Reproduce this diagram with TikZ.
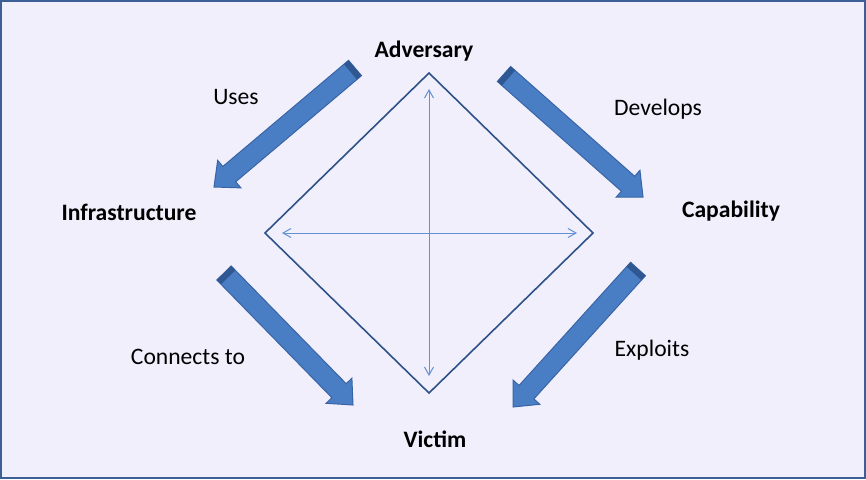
\documentclass[tikz,border=0pt]{standalone}
\usepackage{fontspec}
\setmainfont{Carlito}
\usepackage{xcolor}
\usetikzlibrary{arrows.meta, calc, math}
\definecolor{bgblue}{RGB}{241,239,252}
\definecolor{frameblue}{RGB}{60,95,150}
\definecolor{arrfill}{RGB}{74,126,196}
\definecolor{arredge}{RGB}{56,100,165}
\definecolor{arrtail}{RGB}{47,88,146}
\definecolor{diamblue}{RGB}{46,82,136}
\definecolor{axisblue}{RGB}{100,145,212}

% block arrow from tail #1 to tip #2
\newcommand{\blockarr}[2]{%
\coordinate (H) at ($(#2)!10pt!(#1)$);
\coordinate (T1) at ($(#1)!3pt!(#2)$);
\fill[arrfill, draw=arredge, line width=0.5pt, line join=miter]
  ($(#1)!5pt!90:(#2)$) -- ($(H)!5pt!90:(#2)$) -- ($(H)!9pt!90:(#2)$)
  -- (#2) -- ($(H)!9pt!-90:(#2)$) -- ($(H)!5pt!-90:(#2)$)
  -- ($(#1)!5pt!-90:(#2)$) -- cycle;
\fill[arrtail] ($(#1)!5pt!90:(#2)$) -- ($(T1)!5pt!90:(#2)$)
  -- ($(T1)!5pt!-90:(#2)$) -- ($(#1)!5pt!-90:(#2)$) -- cycle;
}

\begin{document}
\begin{tikzpicture}[x=0.5pt, y=-0.5pt,
  bigword/.style={font=\fontsize{11.8}{14}\selectfont\bfseries, anchor=base, inner sep=0pt},
  smallword/.style={font=\fontsize{11.8}{14}\selectfont, anchor=base, inner sep=0pt}]

\tikzmath{
\cx = 429;
\cy = 233;
\dx = 164; %half width of diamond
\dy = 160; %half height of diamond
}

%frame:
\useasboundingbox (0,0) rectangle (866,479);
\fill[bgblue] (0,0) rectangle (866,479);
\draw[frameblue, line width=1.2pt] (1,1) rectangle (865,478);

%diamond:
\coordinate (DT) at (\cx,\cy-\dy);
\coordinate (DL) at (\cx-\dx,\cy);
\coordinate (DR) at (\cx+\dx,\cy);
\coordinate (DB) at (\cx,\cy+\dy);
\draw[diamblue, line width=0.8pt] (DT) -- (DR) -- (DB) -- (DL) -- cycle;

%axes:
\coordinate (AT) at (\cx,89);
\coordinate (AB) at (\cx,376);
\coordinate (AL) at (282,\cy);
\coordinate (AR) at (577,\cy);
\draw[axisblue, line width=0.5pt, {Straight Barb[length=4pt,width=4.5pt]}-{Straight Barb[length=4pt,width=4.5pt]}] (AT) -- (AB);
\draw[axisblue, line width=0.5pt, {Straight Barb[length=4pt,width=4.5pt]}-{Straight Barb[length=4pt,width=4.5pt]}] (AL) -- (AR);

%vertices:
\node[bigword] (adv) at (424,57) {Adversary};
\node[bigword] (infra) at (129,220) {Infrastructure};
\node[bigword] (capa) at (731,217) {Capability};
\node[bigword] (vict) at (435,447) {Victim};

%arrows:
\coordinate (UT) at (355,68);
\coordinate (UP) at (214,187);
\coordinate (DvT) at (504,74);
\coordinate (DvP) at (643,197);
\coordinate (CT) at (224,273);
\coordinate (CP) at (353,405);
\coordinate (ET) at (638,269);
\coordinate (EP) at (513,407);
\blockarr{UT}{UP}
\blockarr{DvT}{DvP}
\blockarr{CT}{CP}
\blockarr{ET}{EP}

%relations:
\node[smallword] (uses) at (236,104) {Uses};
\node[smallword] (dev) at (658,115) {Develops};
\node[smallword] (conn) at (188,364) {Connects to};
\node[smallword] (expl) at (652,356) {Exploits};

\end{tikzpicture}
\end{document}
